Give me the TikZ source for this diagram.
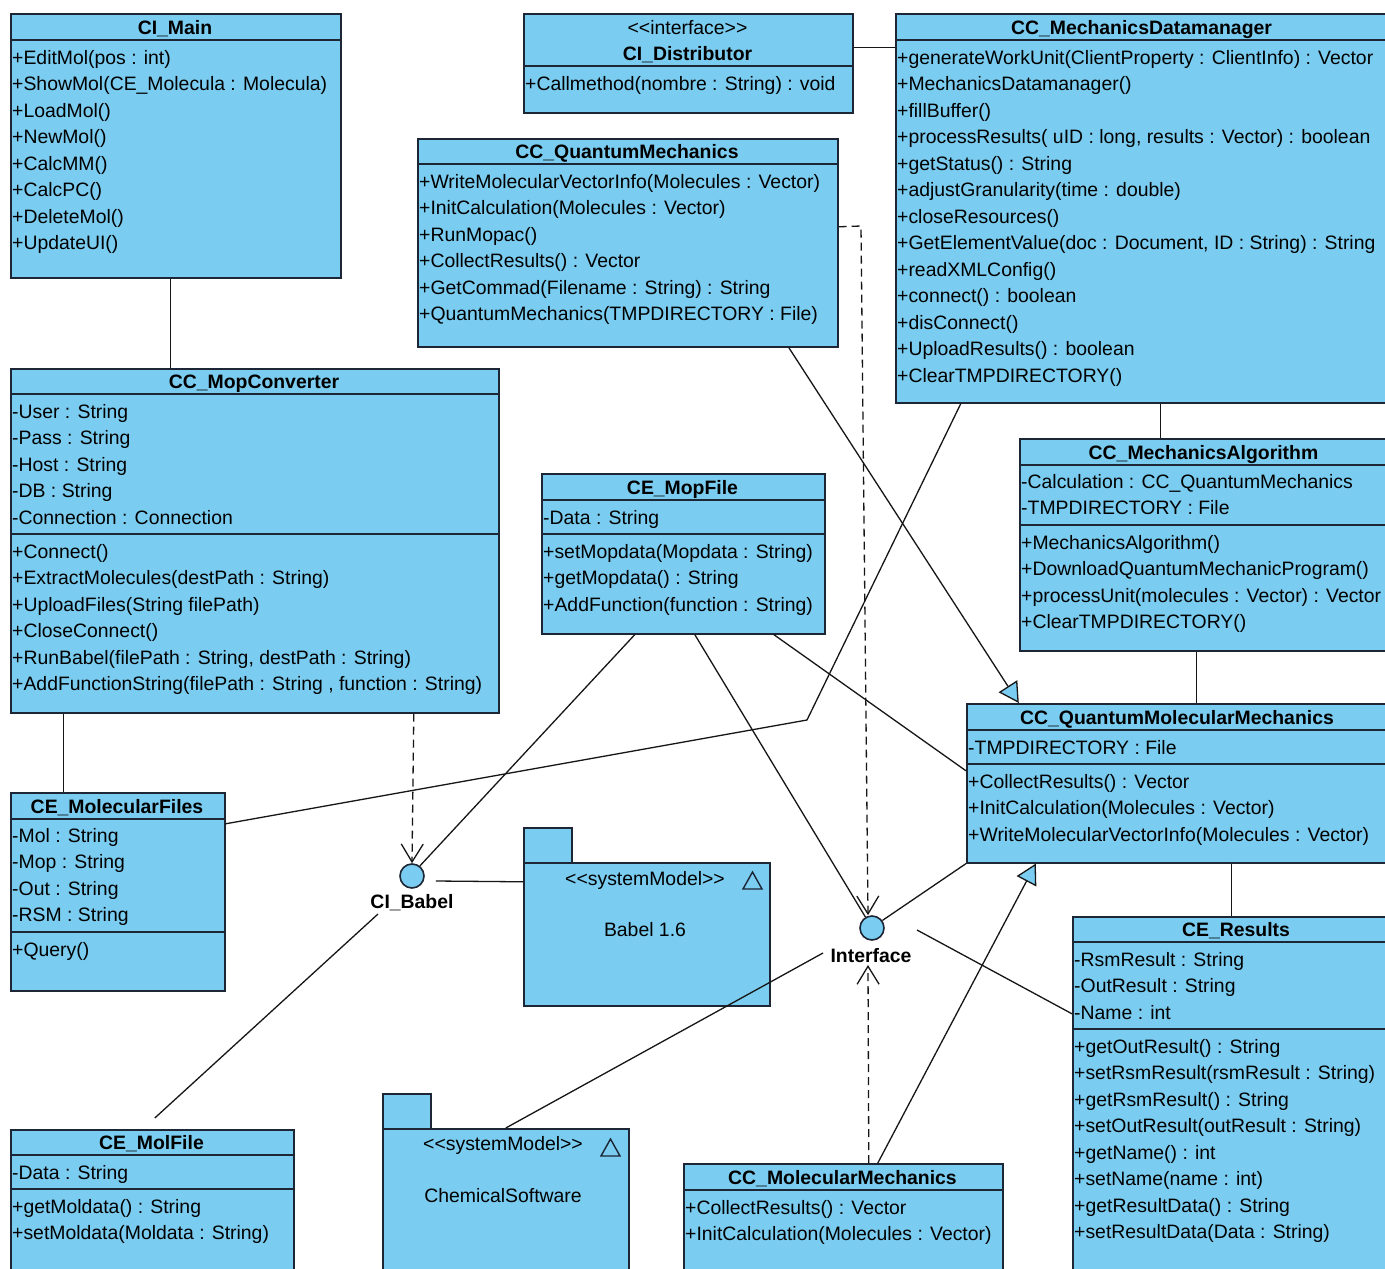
\documentclass[tikz,border=0pt]{standalone}
\usepackage{fontspec}
\setmainfont{Liberation Sans}
\usetikzlibrary{arrows.meta}

\definecolor{umlfill}{RGB}{122,204,240}
\definecolor{umledge}{RGB}{28,38,52}
\definecolor{umlink}{RGB}{22,22,22}

\tikzset{
  box/.style={draw=umledge, fill=umlfill, line width=1.6pt, inner sep=0pt, anchor=north west},
  divider/.style={draw=umledge, line width=1.4pt},
  cname/.style={font=\fontsize{19.4}{22}\selectfont\bfseries, inner sep=0pt, anchor=base},
  member/.style={font=\fontsize{19.4}{22}\selectfont, inner sep=0pt, anchor=base west},
  plain/.style={font=\fontsize{19.4}{22}\selectfont, inner sep=0pt, anchor=base},
  assoc/.style={draw=umlink, line width=1.3pt},
  dep/.style={assoc, dash pattern=on 8pt off 5pt, -{Straight Barb[length=18pt,width=22pt]}},
  gen/.style={assoc, -{Triangle[length=20pt,width=22pt,fill=umlfill]}},
  lollipop/.style={circle, draw=umledge, fill=umlfill, line width=1.6pt, minimum size=24pt, inner sep=0pt},
}

% stereotype brackets, kept as plain angle brackets
\newcommand\stereo[1]{<\kern0pt<#1>\kern0pt>}
% class rectangle: name, x1, y1, x2, y2, header bottom, title
\newcommand\classbox[7]{%
  \node[box, minimum width={(#4-#2)*1pt}, minimum height={(#5-#3)*1pt}] (#1) at (#2,#3) {};
  \draw[divider] (#2,#6) -- (#4,#6);
  \node[cname] (#1-title) at ({(#2+#4)/2},#6-6) {#7};
}
% compartment separator
\newcommand\sep[3]{\draw[divider] (#1,#3) -- (#2,#3);}
% member rows: node prefix, x, first baseline, list
\newcommand\members[4]{%
  \foreach \t [count=\i] in {#4} {\node[member] (#1-\i) at (#2,{#3+26.5*(\i-1)}) {\t};}
}

\begin{document}
\begin{tikzpicture}[x=1pt, y=-1pt]
\fill[white] (0,0) rectangle (1385,1269);
\useasboundingbox (0,0) rectangle (1385,1269);

% ---------- classes ----------
\classbox{cimain}{10}{13}{340}{277}{40}{CI\_Main}
\members{cimain-m}{12}{64}{+EditMol(pos : int), +ShowMol(CE\_Molecula : Molecula), +LoadMol(), +NewMol(), +CalcMM(), +CalcPC(), +DeleteMol(), +UpdateUI()}

\node[box, minimum width=329pt, minimum height=99pt] (cidist) at (523,13) {};
\node[plain] (cidist-st) at (687.5,34) {\stereo{interface}};
\node[cname] (cidist-title) at (687.5,60) {CI\_Distributor};
\sep{523}{852}{66}
\members{cidist-m}{525}{90}{+Callmethod(nombre : String) : void}

\classbox{dataman}{895}{13}{1388}{402}{40}{CC\_MechanicsDatamanager}
\members{dataman-m}{897}{64}{{+generateWorkUnit(ClientProperty : ClientInfo) : Vector}, +MechanicsDatamanager(), +fillBuffer(), {+processResults( uID : long, results : Vector) : boolean}, +getStatus() : String, +adjustGranularity(time : double), +closeResources(), {+GetElementValue(doc : Document, ID : String) : String}, +readXMLConfig(), +connect() : boolean, +disConnect(), +UploadResults() : boolean, +ClearTMPDIRECTORY()}

\classbox{qm}{417}{138}{837}{346}{164}{CC\_QuantumMechanics}
\members{qm-m}{419}{188}{+WriteMolecularVectorInfo(Molecules : Vector), +InitCalculation(Molecules : Vector), +RunMopac(), +CollectResults() : Vector, +GetCommad(Filename : String) : String, +QuantumMechanics(TMPDIRECTORY : File)}

\classbox{mopconv}{10}{368}{498}{712}{394}{CC\_MopConverter}
\members{mopconv-a}{12}{418}{-User : String, -Pass : String, -Host : String, -DB : String, -Connection : Connection}
\sep{10}{498}{534}
\members{mopconv-m}{12}{558}{+Connect(), +ExtractMolecules(destPath : String), +UploadFiles(String filePath), +CloseConnect(), {+RunBabel(filePath : String, destPath : String)}, {+AddFunctionString(filePath : String , function : String)}}

\classbox{mopfile}{541}{473}{824}{633}{500}{CE\_MopFile}
\members{mopfile-a}{543}{524}{-Data : String}
\sep{541}{824}{534}
\members{mopfile-m}{543}{558}{+setMopdata(Mopdata : String), +getMopdata() : String, +AddFunction(function : String)}

\classbox{mechalg}{1019}{438}{1388}{650}{465}{CC\_MechanicsAlgorithm}
\members{mechalg-a}{1021}{488}{-Calculation : CC\_QuantumMechanics, -TMPDIRECTORY : File}
\sep{1019}{1388}{525}
\members{mechalg-m}{1021}{549}{+MechanicsAlgorithm(), +DownloadQuantumMechanicProgram(), +processUnit(molecules : Vector) : Vector, +ClearTMPDIRECTORY()}

\classbox{qmm}{966}{703}{1388}{862}{730}{CC\_QuantumMolecularMechanics}
\members{qmm-a}{968}{754}{-TMPDIRECTORY : File}
\sep{966}{1388}{764}
\members{qmm-m}{968}{788}{+CollectResults() : Vector, +InitCalculation(Molecules : Vector), +WriteMolecularVectorInfo(Molecules : Vector)}

\classbox{molfiles}{10}{792}{224}{990}{819}{CE\_MolecularFiles}
\members{molfiles-a}{12}{842}{-Mol : String, -Mop : String, -Out : String, -RSM : String}
\sep{10}{224}{932}
\members{molfiles-m}{12}{956}{+Query()}

\classbox{results}{1072}{916}{1400}{1290}{942}{CE\_Results}
\members{results-a}{1074}{966}{-RsmResult : String, -OutResult : String, -Name : int}
\sep{1072}{1400}{1029}
\members{results-m}{1074}{1053}{+getOutResult() : String, +setRsmResult(rsmResult : String), +getRsmResult() : String, +setOutResult(outResult : String), +getName() : int, +setName(name : int), +getResultData() : String, +setResultData(Data : String)}

\classbox{molfile}{10}{1129}{293}{1290}{1155}{CE\_MolFile}
\members{molfile-a}{12}{1179}{-Data : String}
\sep{10}{293}{1189}
\members{molfile-m}{12}{1213}{+getMoldata() : String, +setMoldata(Moldata : String)}

\classbox{molmech}{683}{1163}{1002}{1290}{1190}{CC\_MolecularMechanics}
\members{molmech-m}{685}{1214}{+CollectResults() : Vector, +InitCalculation(Molecules : Vector)}

% ---------- packages ----------
\node[box, minimum width=48pt, minimum height=35pt] (babeltab) at (523,827) {};
\node[box, minimum width=246pt, minimum height=143pt] (babelpkg) at (523,862) {};
\node[plain] (babel-st) at (645,885) {\stereo{systemModel}};
\draw[divider] (743,889) -- (762,889) -- (752.5,872) -- cycle;
\node[plain] (babel-name) at (645,936) {Babel 1.6};

\node[box, minimum width=48pt, minimum height=35pt] (chemtab) at (382,1093) {};
\node[box, minimum width=246pt, minimum height=162pt] (chempkg) at (382,1128) {};
\node[plain] (chem-st) at (503,1150) {\stereo{systemModel}};
\draw[divider] (601,1156) -- (620,1156) -- (610.5,1139) -- cycle;
\node[plain] (chem-name) at (503,1202) {ChemicalSoftware};

% ---------- provided interfaces ----------
\node[lollipop] (babel) at (412,876) {};
\node[cname] (babel-l) at (412,908) {CI\_Babel};
\node[lollipop] (iface) at (872,928) {};
\node[cname] (iface-l) at (871,962) {Interface};

% ---------- connectors ----------
\draw[assoc] ([xshift=-5pt]cimain.south) -- ([xshift=-84pt]mopconv.north);
\draw[assoc] ([yshift=15.5pt]cidist.east) -- ([yshift=160.5pt]dataman.west);
\draw[assoc] ([xshift=18.5pt]dataman.south) -- ([xshift=-43.5pt]mechalg.north);
\draw[assoc] ([xshift=-7.5pt]mechalg.south) -- ([xshift=19pt]qmm.north);
\draw[assoc] ([xshift=54pt]qmm.south) -- ([xshift=-5pt]results.north);
\draw[assoc] ([xshift=-191pt]mopconv.south) -- ([xshift=-54pt]molfiles.north);
\draw[gen] ([xshift=161pt]qm.south) -- ([xshift=-159pt]qmm.north);
\coordinate (bendA) at (807,720);
\draw[assoc] ([xshift=-181.5pt]dataman.south) -- (bendA) -- ([yshift=68pt]molfiles.east);
\draw[dep] ([xshift=159pt]mopconv.south) -- (babel.north);
\draw[assoc] ([xshift=-48.5pt]mopfile.south) -- (babel.52);
\draw[assoc] ([xshift=11pt,yshift=-5pt]babel.east) -- ([yshift=52.5pt]babelpkg.west);
\draw[assoc] ([xshift=-34pt,yshift=-38pt]babel.center) -- ([xshift=2.5pt,yshift=11pt]molfile.north);
\draw[assoc] ([xshift=11.5pt]mopfile.south) -- (iface.121);
\draw[assoc] ([xshift=90.5pt]mopfile.south) -- ([yshift=12.5pt]qmm.west);
\coordinate (bendB) at (861,226);
\draw[dep] ([yshift=16pt]qm.east) -- (bendB) -- ([xshift=-4pt]iface.north);
\draw[assoc] (iface.36) -- (qmm.south west);
\draw[assoc] ([xshift=45pt,yshift=-2pt]iface.center) -- ([yshift=90pt]results.west);
\draw[assoc] ([xshift=-49pt,yshift=-25pt]iface.center) -- (chempkg.north);
\draw[dep] ([xshift=25.5pt]molmech.north) -- ([xshift=-4pt,yshift=-37pt]iface.center);
\draw[gen] ([xshift=34.5pt]molmech.north) -- ([xshift=-142pt]qmm.south);
\end{tikzpicture}
\end{document}
